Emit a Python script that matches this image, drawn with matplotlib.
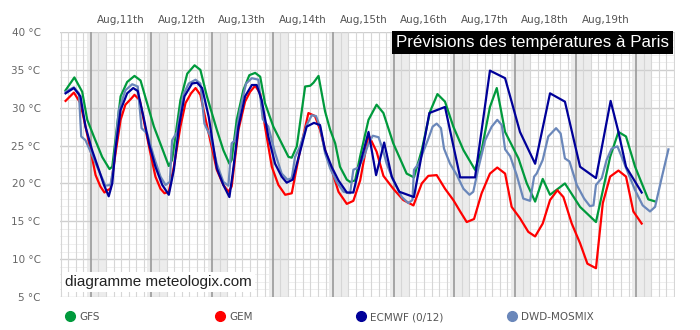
import matplotlib
matplotlib.use("Agg")
import matplotlib.pyplot as plt
from matplotlib.lines import Line2D

# hours since Aug 11 00:00 and temperatures (°C)
gfs_h = [-10, -6.5, -3.4, -1.4, 1.2, 4.5, 7.4, 8.5, 11.8, 14.4, 17.3, 19.7, 22.3, 25, 28.3, 30.9, 32.2,
         35.5, 38.2, 41.1, 43.4, 46, 49.9, 52.5, 54.9, 55.8, 57.8, 60.4, 62.8, 65.1, 67.1, 69, 72.3,
         75, 78.3, 79.6, 81.6, 84.9, 86.9, 88.2, 90.2, 92.8, 94.8, 96.8, 98.7, 101.4, 102.7, 104.7,
         106.7, 110, 113.2, 115.9, 119.8, 125.1, 128, 131.1, 134.4, 137.3, 140.3, 143.6, 147.6,
         152.2, 154.8, 158.1, 160.8, 164.1, 169.4, 172.7, 176, 179, 181.9, 187.8, 193.8, 200.1,
         205.7, 209, 212, 215.6, 220.8, 223.7]
gfs_t = [32.3, 34.0, 32.1, 28.4, 26.2, 23.5, 21.9, 22.2, 31.5, 33.4, 34.2, 33.6, 30.6, 27.5, 24.6, 22.3, 23.1,
         31.0, 34.5, 35.6, 35.0, 31.5, 27.1, 24.4, 22.6, 23.1, 28.4, 32.3, 34.3, 34.6, 34.1, 30.6, 27.5,
         25.7, 23.5, 23.4, 24.9, 32.8, 32.9, 33.3, 34.2, 29.5, 27.1, 25.3, 22.2, 20.5, 20.2, 20.4,
         23.6, 28.4, 30.4, 29.3, 25.3, 21.3, 20.8, 24.4, 29.5, 31.8, 30.8, 27.5, 24.4,
         21.8, 24.4, 30.1, 32.6, 26.8, 23.3, 20.0, 17.6, 20.6, 18.5, 20.0, 16.9, 14.9,
         23.5, 26.8, 26.2, 22.2, 17.9, 17.6]

gem_h = [-10, -6.7, -4.1, -2.1, -0.1, 1.9, 3.8, 5.4, 6.5, 7.8, 9.8, 11.8, 13.7, 16, 17.3, 19.4, 21.7,
         23.6, 25.6, 27.6, 29.2, 30.9, 32.9, 35.5, 37.5, 39.7, 41.5, 43.4, 46.1, 49.9, 52.5, 54.5,
         55.8, 58.5, 61.1, 63.1, 65.1, 67.1, 69, 71.7, 74.3, 77, 79.6, 82.9, 86.2, 88.8, 90.8, 92.8,
         95.4, 98.1, 101.4, 104, 106.7, 110, 113.2, 115.9, 119.8, 123.8, 127.8, 131.1, 133.7, 137,
         140.3, 143.6, 146.3, 148.9, 151.8, 154.8, 158.1, 161, 164.1, 166.7, 170, 173.3, 176, 179,
         181.9, 184.8, 187.2, 190.5, 193.8, 196.7, 200.1, 202.8, 205.7, 209, 212, 214.9, 218.2]
gem_t = [30.9, 32.0, 30.6, 27.5, 24.4, 21.1, 19.6, 18.8, 19.1, 19.3, 24.0, 28.4, 30.4, 31.2, 31.7, 31.0, 27.1,
         24.0, 20.9, 19.3, 18.7, 18.9, 22.2, 27.5, 30.6, 31.9, 32.6, 31.7, 27.5, 21.8, 19.8, 18.9,
         19.6, 27.1, 30.8, 32.1, 32.9, 31.9, 27.5, 22.2, 19.8, 18.5, 18.7, 24.4, 29.3, 28.9, 27.1, 24.4,
         21.8, 18.9, 17.3, 17.7, 20.4, 26.4, 24.2, 21.0, 19.3, 17.8, 17.1, 20.0, 21.0, 21.1,
         19.3, 17.8, 16.3, 14.9, 15.3, 18.7, 21.3, 22.1, 21.3, 16.9, 15.4, 13.6, 13.0, 14.7,
         17.8, 19.1, 18.2, 14.7, 12.1, 9.4, 8.8, 17.4, 20.9, 21.7, 20.9, 16.3, 14.7]

ecmwf_h = [-10, -6.7, -4.1, -2.1, 0.5, 3.2, 5.2, 7.1, 8.5, 9.8, 11.8, 14.4, 16.8, 18.6, 21, 23, 25.6,
           28.3, 30.9, 32.9, 34.9, 37.1, 40.1, 42.1, 44.1, 46.7, 49.9, 52.5, 54.9, 56.2, 58.5, 61.1,
           63.8, 65.7, 67.7, 70.3, 73, 75.6, 77.6, 80, 82.9, 85.5, 88.4, 90.8, 92.8, 95.4, 98.1, 101.4,
           104, 106.7, 110, 113, 116.2, 119.2, 122.2, 128, 134.1, 140.3, 146.3, 152.2, 158.1, 164.1,
           170, 176, 181.9, 187.8, 193.8, 200.1, 205.9, 209, 212, 218.2]
ecmwf_t = [31.9, 32.6, 31.5, 27.5, 24.4, 21.8, 19.8, 18.3, 20.0, 24.6, 29.7, 31.9, 32.6, 32.2, 28.6, 25.3, 22.2,
           19.8, 18.5, 21.8, 27.5, 31.5, 33.2, 33.3, 32.6, 28.8, 22.0, 19.8, 18.2, 21.3, 27.5, 31.5,
           33.0, 33.0, 31.0, 26.2, 22.6, 20.9, 20.1, 20.5, 24.2, 27.5, 28.0, 27.7, 24.4, 22.2, 20.4, 18.8,
           18.8, 22.6, 26.8, 21.1, 25.4, 20.9, 18.9, 18.2, 29.3, 30.1, 20.8, 20.8, 34.9, 33.9,
           26.8, 22.6, 31.9, 30.8, 22.2, 20.7, 30.9, 26.8, 22.2, 18.8]

dwd_h = [-10, -6.7, -4.7, -3.8, -2.1, -0.1, 2.5, 4.5, 5.8, 7.8, 8.9, 11.1, 13.7, 16.4, 18.6, 20.1, 22.3,
         25, 27.6, 29.6, 31.3, 32.2, 34.2, 36.6, 38.8, 41.5, 43.4, 45, 47.4, 49.9, 52.5, 54.5, 55.8,
         57.1, 59.1, 61.5, 63.8, 66.4, 68.1, 70.3, 73, 75.6, 77.9, 79.6, 80.9, 82.9, 85.5, 87.5, 89.2,
         90.8, 92.8, 94.8, 97.4, 100.1, 102.7, 104, 106, 108.2, 110, 111.7, 114, 115.9, 117.2, 119.8,
         123.2, 125.8, 127.4, 128, 129.8, 131.7, 133.7, 135.4, 137, 138.7, 139.9, 142.3, 145, 147.6,
         150, 151.5, 153.5, 156.2, 158.8, 161, 162.8, 164.1, 166.1, 168.7, 171.3, 174, 175.6, 176.6,
         179, 181.2, 184.3, 186.1, 187.8, 189.6, 192.5, 195.4, 197.7, 199.1, 200.1, 202.4, 204.3,
         206.3, 208.6, 210.3, 212.3, 215.6, 218.6, 221.5, 223.5, 226.1, 228.8]
dwd_t = [32.1, 32.7, 31.9, 26.2, 25.7, 24.2, 22.2, 20.7, 19.7, 19.8, 22.0, 29.7, 32.3, 33.1, 32.8, 27.3, 26.6,
         23.5, 20.9, 19.8, 20.2, 25.7, 26.8, 31.7, 33.2, 33.7, 33.2, 27.9, 26.2, 22.6, 20.2, 19.7, 25.3,
         25.7, 29.7, 33.2, 33.9, 33.7, 28.5, 27.5, 24.0, 21.3, 20.5, 20.7, 23.5, 24.9, 27.7, 29.0, 28.9,
         27.5, 24.0, 22.0, 20.2, 18.9, 18.7, 21.8, 22.1, 23.5, 25.3, 26.3, 26.1, 24.2, 22.6, 20.4,
         18.2, 17.4, 17.8, 21.8, 22.6, 24.2, 25.9, 27.5, 27.9, 27.3, 24.6, 22.6, 21.1, 19.3,
         18.5, 18.9, 22.0, 25.7, 27.5, 28.4, 27.7, 24.5, 23.6, 21.1, 18.0, 17.7, 20.9, 21.3,
         23.1, 26.2, 27.3, 26.6, 23.3, 22.9, 19.8, 18.0, 17.0, 17.1, 19.8, 20.7, 23.1,
         24.6, 24.9, 23.5, 21.8, 19.1, 17.1, 16.3, 16.9, 20.7, 24.5]

day_labels = ["Aug,11th", "Aug,12th", "Aug,13th", "Aug,14th", "Aug,15th",
              "Aug,16th", "Aug,17th", "Aug,18th", "Aug,19th"]
y_ticks = [5, 10, 15, 20, 25, 30, 35, 40]
legend_names = ["GFS", "GEM", "ECMWF (0/12)", "DWD-MOSMIX"]
colors = ["#009a3c", "#ff0000", "#000099", "#6a87ba"]

fig = plt.figure(figsize=(7, 3.3), dpi=100)
ax = fig.add_axes([60/700, 33/330, 615/700, 265/330])
x0, x1 = -12.2, 231.4
ax.set_xlim(x0, x1)
ax.set_ylim(5, 40)

# night shading
for d in range(-1, 10):
    ax.axvspan(24*d - 1.6, 24*d + 6, color="#ececec", zorder=0, lw=0)

# grid
for y in range(5, 41):
    if y % 5 == 0:
        ax.axhline(y, color="#cfcfcf", lw=1.0, zorder=1)
    else:
        ax.axhline(y, color="#ececec", lw=0.6, zorder=1)
h = -12
while h < x1:
    if h % 24 == 0:
        ax.axvline(h, color="#a0a0a0", lw=1.3, zorder=1)
    else:
        ax.axvline(h, color="#d6d6d6", lw=0.8, zorder=1)
    h += 3

ax.plot(gfs_h, gfs_t, color=colors[0], lw=1.6, zorder=3)
ax.plot(gem_h, gem_t, color=colors[1], lw=1.6, zorder=3)
ax.plot(dwd_h, dwd_t, color=colors[3], lw=1.6, zorder=3)
ax.plot(ecmwf_h, ecmwf_t, color=colors[2], lw=1.6, zorder=4)

for s in ax.spines.values():
    s.set_visible(False)
ax.set_xticks([])
ax.set_yticks(y_ticks)
ax.set_yticklabels(["%d °C" % v for v in y_ticks], color="#666666", fontsize=7.5)
ax.tick_params(axis="y", length=0, pad=14)

for i, lab in enumerate(day_labels):
    ax.text(24*i + 12, 41.6, lab, ha="center", va="center", fontsize=7.5, color="#555555")

ax.text(0.99, 0.988, "Prévisions des températures à Paris", transform=ax.transAxes,
        ha="right", va="top", fontsize=12.2, color="white", family="Liberation Sans", zorder=6,
        bbox=dict(boxstyle="square,pad=0.22", fc="black", ec="none"))
ax.text(0.008, 0.03, "diagramme meteologix.com", transform=ax.transAxes,
        ha="left", va="bottom", fontsize=11, color="#222222", family="Liberation Sans", zorder=6,
        bbox=dict(boxstyle="square,pad=0.2", fc="white", ec="none"))

leg_x = [70, 220, 361, 512]
for x, name, c in zip(leg_x, legend_names, colors):
    fig.add_artist(Line2D([x/700], [1 - 316/330], marker="o", markersize=7, color=c,
                          lw=0, transform=fig.transFigure))
    fig.text((x + 9)/700, 1 - 317/330, name, fontsize=7.5, color="#555555", va="center")

fig.savefig("out.png", dpi=100)
